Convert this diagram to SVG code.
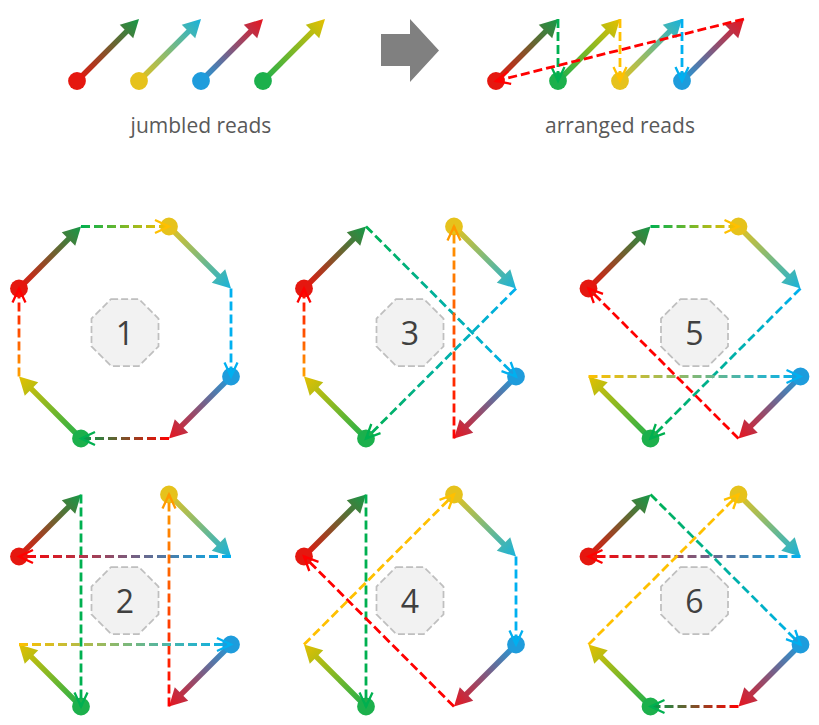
<svg xmlns="http://www.w3.org/2000/svg" xmlns:xlink="http://www.w3.org/1999/xlink" width="819" height="725" viewBox="0 0 819 725">
<style>
.shaft{stroke-width:5.5;fill:none}
.dash{fill:none;stroke-width:2.8;stroke-dasharray:9 4}
.oct{fill:#f2f2f2;stroke:#bfbfbf;stroke-width:1.75;stroke-dasharray:7 3}
.num{font-family:"Open Sans","Liberation Sans",sans-serif;font-size:32px;fill:#404040;text-anchor:middle}
.cap{font-family:"Open Sans","Liberation Sans",sans-serif;font-size:21px;fill:#595959;text-anchor:middle}
.chev{fill:none;stroke-width:2.3}
</style>
<defs>
<linearGradient id="gR" gradientUnits="userSpaceOnUse" x1="0" y1="0" x2="88" y2="0"><stop offset="0" stop-color="#e8140e"/><stop offset="1" stop-color="#159a48"/></linearGradient>
<linearGradient id="gY" gradientUnits="userSpaceOnUse" x1="0" y1="0" x2="88" y2="0"><stop offset="0" stop-color="#e6c21c"/><stop offset="1" stop-color="#17b2dc"/></linearGradient>
<linearGradient id="gB" gradientUnits="userSpaceOnUse" x1="0" y1="0" x2="88" y2="0"><stop offset="0" stop-color="#1e9cdc"/><stop offset="1" stop-color="#e8141e"/></linearGradient>
<linearGradient id="gG" gradientUnits="userSpaceOnUse" x1="0" y1="0" x2="88" y2="0"><stop offset="0" stop-color="#1cb04c"/><stop offset="1" stop-color="#e6c000"/></linearGradient>
<g id="readR"><line class="shaft" x1="0" y1="0" x2="72" y2="0" stroke="url(#gR)"/><polygon points="87.7,0 70,-9.5 70,9.5" fill="url(#gR)"/><circle r="8.9" fill="#e5170f"/></g>
<g id="readY"><line class="shaft" x1="0" y1="0" x2="72" y2="0" stroke="url(#gY)"/><polygon points="87.7,0 70,-9.5 70,9.5" fill="url(#gY)"/><circle r="8.9" fill="#e6c21c"/></g>
<g id="readB"><line class="shaft" x1="0" y1="0" x2="72" y2="0" stroke="url(#gB)"/><polygon points="87.7,0 70,-9.5 70,9.5" fill="url(#gB)"/><circle r="8.9" fill="#1e9cdc"/></g>
<g id="readG"><line class="shaft" x1="0" y1="0" x2="72" y2="0" stroke="url(#gG)"/><polygon points="87.7,0 70,-9.5 70,9.5" fill="url(#gG)"/><circle r="8.9" fill="#1cb04c"/></g>
<polygon id="octShape" class="oct" points="-13.9,-33.5 13.9,-33.5 33.5,-13.9 33.5,13.9 13.9,33.5 -13.9,33.5 -33.5,13.9 -33.5,-13.9"/>
<marker id="mG" markerUnits="userSpaceOnUse" viewBox="-17 -8 19 16" refX="0" refY="0" markerWidth="19" markerHeight="16" orient="auto" overflow="visible"><path class="chev" d="M-14,-6.5 L0,0 L-14,6.5" stroke="#00b050"/></marker>
<marker id="mY" markerUnits="userSpaceOnUse" viewBox="-17 -8 19 16" refX="0" refY="0" markerWidth="19" markerHeight="16" orient="auto" overflow="visible"><path class="chev" d="M-14,-6.5 L0,0 L-14,6.5" stroke="#ffc000"/></marker>
<marker id="mO" markerUnits="userSpaceOnUse" viewBox="-17 -8 19 16" refX="0" refY="0" markerWidth="19" markerHeight="16" orient="auto" overflow="visible"><path class="chev" d="M-14,-6.5 L0,0 L-14,6.5" stroke="#ff9900"/></marker>
<marker id="mC" markerUnits="userSpaceOnUse" viewBox="-17 -8 19 16" refX="0" refY="0" markerWidth="19" markerHeight="16" orient="auto" overflow="visible"><path class="chev" d="M-14,-6.5 L0,0 L-14,6.5" stroke="#00b0f0"/></marker>
<marker id="mR" markerUnits="userSpaceOnUse" viewBox="-17 -8 19 16" refX="0" refY="0" markerWidth="19" markerHeight="16" orient="auto" overflow="visible"><path class="chev" d="M-14,-6.5 L0,0 L-14,6.5" stroke="#ff0000"/></marker>
<linearGradient id="c1a" gradientUnits="userSpaceOnUse" x1="81" y1="226.5" x2="169" y2="226.5"><stop offset="0" stop-color="#00b050"/><stop offset="1" stop-color="#ffc000"/></linearGradient>
<linearGradient id="c1c" gradientUnits="userSpaceOnUse" x1="169" y1="438.5" x2="81" y2="438.5"><stop offset="0" stop-color="#ff0000"/><stop offset="1" stop-color="#00a050"/></linearGradient>
<linearGradient id="c1d" gradientUnits="userSpaceOnUse" x1="19" y1="376.5" x2="19" y2="288.5"><stop offset="0" stop-color="#ffa000"/><stop offset="1" stop-color="#ff0000"/></linearGradient>
<linearGradient id="c3a" gradientUnits="userSpaceOnUse" x1="366" y1="226.5" x2="516" y2="376.5"><stop offset="0" stop-color="#00b050"/><stop offset="1" stop-color="#00b0f0"/></linearGradient>
<linearGradient id="c3b" gradientUnits="userSpaceOnUse" x1="516" y1="288.5" x2="366" y2="438.5"><stop offset="0" stop-color="#00b0f0"/><stop offset="1" stop-color="#00b050"/></linearGradient>
<linearGradient id="c3c" gradientUnits="userSpaceOnUse" x1="454" y1="438.5" x2="454" y2="226.5"><stop offset="0" stop-color="#ff0000"/><stop offset="1" stop-color="#ffa000"/></linearGradient>
<linearGradient id="c3d" gradientUnits="userSpaceOnUse" x1="304" y1="376.5" x2="304" y2="288.5"><stop offset="0" stop-color="#ffa000"/><stop offset="1" stop-color="#ff0000"/></linearGradient>
<linearGradient id="c5a" gradientUnits="userSpaceOnUse" x1="650.5" y1="226.5" x2="738.5" y2="226.5"><stop offset="0" stop-color="#00b050"/><stop offset="1" stop-color="#ffc000"/></linearGradient>
<linearGradient id="c5b" gradientUnits="userSpaceOnUse" x1="800.5" y1="288.5" x2="650.5" y2="438.5"><stop offset="0" stop-color="#00b0f0"/><stop offset="1" stop-color="#00b050"/></linearGradient>
<linearGradient id="c5d" gradientUnits="userSpaceOnUse" x1="588.5" y1="376.5" x2="800.5" y2="376.5"><stop offset="0" stop-color="#ffc000"/><stop offset="1" stop-color="#00b0f0"/></linearGradient>
<linearGradient id="c2b" gradientUnits="userSpaceOnUse" x1="231" y1="556.5" x2="19" y2="556.5"><stop offset="0" stop-color="#00b0f0"/><stop offset="1" stop-color="#ff0000"/></linearGradient>
<linearGradient id="c2c" gradientUnits="userSpaceOnUse" x1="169" y1="706.5" x2="169" y2="494.5"><stop offset="0" stop-color="#ff0000"/><stop offset="1" stop-color="#ffa000"/></linearGradient>
<linearGradient id="c2d" gradientUnits="userSpaceOnUse" x1="19" y1="644.5" x2="231" y2="644.5"><stop offset="0" stop-color="#ffc000"/><stop offset="1" stop-color="#00b0f0"/></linearGradient>
<linearGradient id="c6a" gradientUnits="userSpaceOnUse" x1="650.5" y1="494.5" x2="800.5" y2="644.5"><stop offset="0" stop-color="#00b050"/><stop offset="1" stop-color="#00b0f0"/></linearGradient>
<linearGradient id="c6b" gradientUnits="userSpaceOnUse" x1="800.5" y1="556.5" x2="588.5" y2="556.5"><stop offset="0" stop-color="#00b0f0"/><stop offset="1" stop-color="#ff0000"/></linearGradient>
<linearGradient id="c6c" gradientUnits="userSpaceOnUse" x1="738.5" y1="706.5" x2="650.5" y2="706.5"><stop offset="0" stop-color="#ff0000"/><stop offset="1" stop-color="#00a050"/></linearGradient>
</defs>

<!-- top row -->
<g id="jumbled">
<g id="j-red" transform="translate(77,81) rotate(-45)"><use href="#readR"/></g>
<g id="j-yellow" transform="translate(139,81) rotate(-45)"><use href="#readY"/></g>
<g id="j-blue" transform="translate(201,81) rotate(-45)"><use href="#readB"/></g>
<g id="j-green" transform="translate(263,81) rotate(-45)"><use href="#readG"/></g>
<text class="cap" x="201" y="133">jumbled reads</text>
</g>
<g id="big-arrow"><polygon points="381,34 410,34 410,19 439,50.5 410,82 410,66 381,66" fill="#808080"/></g>
<g id="arranged">
<g id="a-red" transform="translate(496,81) rotate(-45)"><use href="#readR"/></g>
<g id="a-green" transform="translate(558,81) rotate(-45)"><use href="#readG"/></g>
<g id="a-yellow" transform="translate(620,81) rotate(-45)"><use href="#readY"/></g>
<g id="a-blue" transform="translate(682,81) rotate(-45)"><use href="#readB"/></g>
<text class="cap" x="620" y="133">arranged reads</text>
</g>

<!-- panels: octagon labels -->
<g id="label1" transform="translate(125,332.5)"><use href="#octShape"/><text class="num" x="0" y="12">1</text></g>
<g id="label3" transform="translate(410,332.5)"><use href="#octShape"/><text class="num" x="0" y="12">3</text></g>
<g id="label5" transform="translate(694.5,332.5)"><use href="#octShape"/><text class="num" x="0" y="12">5</text></g>
<g id="label2" transform="translate(125,600.5)"><use href="#octShape"/><text class="num" x="0" y="12">2</text></g>
<g id="label4" transform="translate(410,600.5)"><use href="#octShape"/><text class="num" x="0" y="12">4</text></g>
<g id="label6" transform="translate(694.5,600.5)"><use href="#octShape"/><text class="num" x="0" y="12">6</text></g>

<!-- panel reads -->
<g id="p1-reads">
<g id="p1-red" transform="translate(19,288.5) rotate(-45)"><use href="#readR"/></g>
<g id="p1-yellow" transform="translate(169,226.5) rotate(45)"><use href="#readY"/></g>
<g id="p1-blue" transform="translate(231,376.5) rotate(135)"><use href="#readB"/></g>
<g id="p1-green" transform="translate(81,438.5) rotate(-135)"><use href="#readG"/></g>
</g>
<g id="p3-reads">
<g id="p3-red" transform="translate(304,288.5) rotate(-45)"><use href="#readR"/></g>
<g id="p3-yellow" transform="translate(454,226.5) rotate(45)"><use href="#readY"/></g>
<g id="p3-blue" transform="translate(516,376.5) rotate(135)"><use href="#readB"/></g>
<g id="p3-green" transform="translate(366,438.5) rotate(-135)"><use href="#readG"/></g>
</g>
<g id="p5-reads">
<g id="p5-red" transform="translate(588.5,288.5) rotate(-45)"><use href="#readR"/></g>
<g id="p5-yellow" transform="translate(738.5,226.5) rotate(45)"><use href="#readY"/></g>
<g id="p5-blue" transform="translate(800.5,376.5) rotate(135)"><use href="#readB"/></g>
<g id="p5-green" transform="translate(650.5,438.5) rotate(-135)"><use href="#readG"/></g>
</g>
<g id="p2-reads">
<g id="p2-red" transform="translate(19,556.5) rotate(-45)"><use href="#readR"/></g>
<g id="p2-yellow" transform="translate(169,494.5) rotate(45)"><use href="#readY"/></g>
<g id="p2-blue" transform="translate(231,644.5) rotate(135)"><use href="#readB"/></g>
<g id="p2-green" transform="translate(81,706.5) rotate(-135)"><use href="#readG"/></g>
</g>
<g id="p4-reads">
<g id="p4-red" transform="translate(304,556.5) rotate(-45)"><use href="#readR"/></g>
<g id="p4-yellow" transform="translate(454,494.5) rotate(45)"><use href="#readY"/></g>
<g id="p4-blue" transform="translate(516,644.5) rotate(135)"><use href="#readB"/></g>
<g id="p4-green" transform="translate(366,706.5) rotate(-135)"><use href="#readG"/></g>
</g>
<g id="p6-reads">
<g id="p6-red" transform="translate(588.5,556.5) rotate(-45)"><use href="#readR"/></g>
<g id="p6-yellow" transform="translate(738.5,494.5) rotate(45)"><use href="#readY"/></g>
<g id="p6-blue" transform="translate(800.5,644.5) rotate(135)"><use href="#readB"/></g>
<g id="p6-green" transform="translate(650.5,706.5) rotate(-135)"><use href="#readG"/></g>
</g>

<!-- connectors -->
<g id="connectors">
<line class="dash" x1="558" y1="19" x2="558" y2="81" stroke="#00b050" marker-end="url(#mG)"/>
<line class="dash" x1="620" y1="19" x2="620" y2="81" stroke="#ffc000" marker-end="url(#mY)"/>
<line class="dash" x1="682" y1="19" x2="682" y2="81" stroke="#00b0f0" marker-end="url(#mC)"/>
<line class="dash" x1="744" y1="19" x2="496" y2="81" stroke="#ff0000" marker-end="url(#mR)"/>

<line class="dash" x1="81" y1="226.5" x2="169" y2="226.5" stroke="url(#c1a)" marker-end="url(#mY)"/>
<line class="dash" x1="231" y1="288.5" x2="231" y2="376.5" stroke="#00b0f0" marker-end="url(#mC)"/>
<line class="dash" x1="169" y1="438.5" x2="81" y2="438.5" stroke="url(#c1c)" marker-end="url(#mG)"/>
<line class="dash" x1="19" y1="376.5" x2="19" y2="288.5" stroke="url(#c1d)" marker-end="url(#mR)"/>

<line class="dash" x1="366" y1="226.5" x2="516" y2="376.5" stroke="url(#c3a)" marker-end="url(#mC)"/>
<line class="dash" x1="516" y1="288.5" x2="366" y2="438.5" stroke="url(#c3b)" marker-end="url(#mG)"/>
<line class="dash" x1="454" y1="438.5" x2="454" y2="226.5" stroke="url(#c3c)" marker-end="url(#mO)"/>
<line class="dash" x1="304" y1="376.5" x2="304" y2="288.5" stroke="url(#c3d)" marker-end="url(#mR)"/>

<line class="dash" x1="650.5" y1="226.5" x2="738.5" y2="226.5" stroke="url(#c5a)" marker-end="url(#mY)"/>
<line class="dash" x1="800.5" y1="288.5" x2="650.5" y2="438.5" stroke="url(#c5b)" marker-end="url(#mG)"/>
<line class="dash" x1="738.5" y1="438.5" x2="588.5" y2="288.5" stroke="#ff0000" marker-end="url(#mR)"/>
<line class="dash" x1="588.5" y1="376.5" x2="800.5" y2="376.5" stroke="url(#c5d)" marker-end="url(#mC)"/>

<line class="dash" x1="81" y1="494.5" x2="81" y2="706.5" stroke="#00b050" marker-end="url(#mG)"/>
<line class="dash" x1="231" y1="556.5" x2="19" y2="556.5" stroke="url(#c2b)" marker-end="url(#mR)"/>
<line class="dash" x1="169" y1="706.5" x2="169" y2="494.5" stroke="url(#c2c)" marker-end="url(#mO)"/>
<line class="dash" x1="19" y1="644.5" x2="231" y2="644.5" stroke="url(#c2d)" marker-end="url(#mC)"/>

<line class="dash" x1="366" y1="494.5" x2="366" y2="706.5" stroke="#00b050" marker-end="url(#mG)"/>
<line class="dash" x1="516" y1="556.5" x2="516" y2="644.5" stroke="#00b0f0" marker-end="url(#mC)"/>
<line class="dash" x1="454" y1="706.5" x2="304" y2="556.5" stroke="#ff0000" marker-end="url(#mR)"/>
<line class="dash" x1="304" y1="644.5" x2="454" y2="494.5" stroke="#ffc000" marker-end="url(#mY)"/>

<line class="dash" x1="650.5" y1="494.5" x2="800.5" y2="644.5" stroke="url(#c6a)" marker-end="url(#mC)"/>
<line class="dash" x1="800.5" y1="556.5" x2="588.5" y2="556.5" stroke="url(#c6b)" marker-end="url(#mR)"/>
<line class="dash" x1="738.5" y1="706.5" x2="650.5" y2="706.5" stroke="url(#c6c)" marker-end="url(#mG)"/>
<line class="dash" x1="588.5" y1="644.5" x2="738.5" y2="494.5" stroke="#ffc000" marker-end="url(#mY)"/>
</g>
</svg>
